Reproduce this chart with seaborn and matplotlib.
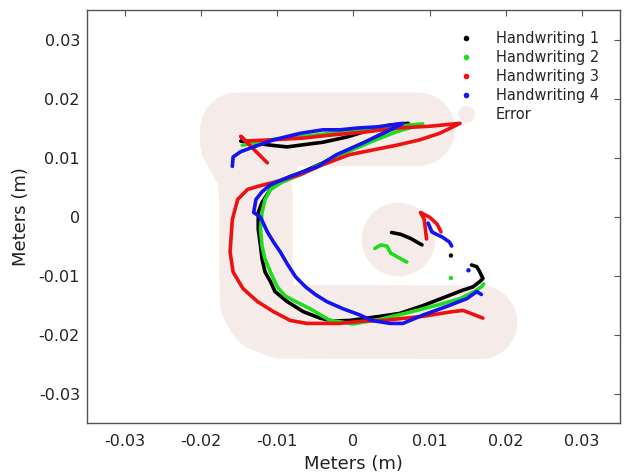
import numpy as np
import pandas as pd
import matplotlib
matplotlib.use("Agg")
import matplotlib.pyplot as plt
import seaborn as sns
from matplotlib.lines import Line2D

# ---------------- data (metres) ----------------
series_names = ["Handwriting 1", "Handwriting 2", "Handwriting 3", "Handwriting 4"]

h1_main_x = [-0.0148, -0.0109, -0.0087, -0.0070, -0.0040, -0.0008, 0.0022, 0.0048, 0.0072, 0.0048,
             0.0022, -0.0014, -0.0040, -0.0066, -0.0092, -0.0109, -0.0120, -0.0125, -0.0125, -0.0122,
             -0.0120, -0.0116, -0.0109, -0.0103, -0.0087, -0.0066, -0.0044, -0.0027, -0.0005, 0.0035,
             0.0061, 0.0091, 0.0123, 0.0143, 0.0157, 0.0166, 0.0170, 0.0166, 0.0162, 0.0155]
h1_main_y = [0.0128, 0.0121, 0.0118, 0.0121, 0.0126, 0.0135, 0.0147, 0.0155, 0.0158, 0.0147,
             0.0130, 0.0108, 0.0091, 0.0076, 0.0063, 0.0046, 0.0024, 0.0007, -0.0021, -0.0050,
             -0.0072, -0.0094, -0.0110, -0.0127, -0.0144, -0.0161, -0.0172, -0.0177, -0.0176, -0.0169,
             -0.0164, -0.0151, -0.0135, -0.0125, -0.0119, -0.0110, -0.0105, -0.0094, -0.0085, -0.0082]
h1_inner_x = [0.0050, 0.0062, 0.0075, 0.0090]
h1_inner_y = [-0.0027, -0.0030, -0.0037, -0.0048]

h2_main_x = [-0.0146, -0.0109, -0.0070, -0.0031, 0.0009, 0.0048, 0.0091, 0.0055, 0.0022, -0.0011,
             -0.0044, -0.0070, -0.0094, -0.0109, -0.0116, -0.0120, -0.0122, -0.0120, -0.0116, -0.0109,
             -0.0100, -0.0090, -0.0079, -0.0057, -0.0040, -0.0031, -0.0014, -0.0001, 0.0035, 0.0074,
             0.0113, 0.0140, 0.0159, 0.0168, 0.0171]
h2_main_y = [0.0121, 0.0130, 0.0135, 0.0141, 0.0147, 0.0152, 0.0157, 0.0143, 0.0126, 0.0108,
             0.0088, 0.0071, 0.0058, 0.0046, 0.0029, 0.0007, -0.0021, -0.0050, -0.0072, -0.0094,
             -0.0119, -0.0134, -0.0142, -0.0156, -0.0169, -0.0176, -0.0179, -0.0182, -0.0174, -0.0162,
             -0.0149, -0.0139, -0.0127, -0.0119, -0.0114]
h2_inner_x = [0.0028, 0.0036, 0.0044, 0.0049, 0.0070]
h2_inner_y = [-0.0054, -0.0048, -0.0050, -0.0062, -0.0077]

h3_main_x = [-0.0113, -0.0148, -0.0142, -0.0109, -0.0066, -0.0031, 0.0013, 0.0057, 0.0100, 0.0140,
             0.0113, 0.0087, 0.0057, 0.0026, -0.0005, -0.0040, -0.0070, -0.0105, -0.0126, -0.0139,
             -0.0152, -0.0159, -0.0162, -0.0158, -0.0145, -0.0126, -0.0105, -0.0083, -0.0061, -0.0018,
             0.0013, 0.0039, 0.0091, 0.0130, 0.0144, 0.0170]
h3_main_y = [0.0091, 0.0136, 0.0128, 0.0130, 0.0133, 0.0138, 0.0143, 0.0150, 0.0153, 0.0158,
             0.0141, 0.0130, 0.0121, 0.0113, 0.0105, 0.0088, 0.0071, 0.0058, 0.0051, 0.0046,
             0.0029, -0.0005, -0.0060, -0.0094, -0.0122, -0.0144, -0.0161, -0.0176, -0.0181, -0.0181,
             -0.0177, -0.0176, -0.0169, -0.0161, -0.0159, -0.0172]
h3_inner_x = [0.0096, 0.0093, 0.0088, 0.0100, 0.0110, 0.0115]
h3_inner_y = [-0.0038, -0.0005, 0.0007, -0.0001, -0.0013, -0.0026]

h4_main_x = [-0.0159, -0.0158, -0.0148, -0.0131, -0.0105, -0.0070, -0.0040, -0.0018, 0.0005, 0.0031,
             0.0048, 0.0065, 0.0039, 0.0013, -0.0022, -0.0048, -0.0083, -0.0109, -0.0120, -0.0128,
             -0.0131, -0.0122, -0.0113, -0.0105, -0.0096, -0.0087, -0.0076, -0.0063, -0.0050, -0.0035,
             -0.0014, 0.0009, 0.0024, 0.0048, 0.0065, 0.0091, 0.0123, 0.0149, 0.0162, 0.0168]
h4_main_y = [0.0085, 0.0101, 0.0110, 0.0118, 0.0130, 0.0141, 0.0147, 0.0147, 0.0150, 0.0152,
             0.0155, 0.0158, 0.0141, 0.0125, 0.0105, 0.0084, 0.0068, 0.0054, 0.0042, 0.0029,
             0.0007, -0.0001, -0.0026, -0.0043, -0.0060, -0.0080, -0.0102, -0.0119, -0.0132, -0.0144,
             -0.0156, -0.0167, -0.0176, -0.0181, -0.0181, -0.0167, -0.0152, -0.0139, -0.0127, -0.0132]
h4_inner_x = [0.0098, 0.0103, 0.0109, 0.0117, 0.0126, 0.0129]
h4_inner_y = [-0.0011, -0.0026, -0.0030, -0.0035, -0.0043, -0.0050]

# isolated single samples
dot_series = ["Handwriting 1", "Handwriting 2", "Handwriting 4"]
dot_x = [0.0128, 0.0128, 0.0151]
dot_y = [-0.0066, -0.0104, -0.0091]

# error region (centre line of the error band, and isolated error blobs)
err_x = [0.0085, 0.0000, -0.0100, -0.0153, -0.0153, -0.0130, -0.0128, -0.0128,
         -0.0127, -0.0117, -0.0095, 0.0167]
err_y = [0.0148, 0.0148, 0.0148, 0.0148, 0.0125, 0.0072, 0.0030, -0.0080,
         -0.0145, -0.0167, -0.0178, -0.0179]
err_blob_x = [0.0058, -0.0120]
err_blob_y = [-0.0038, 0.0102]

tick_vals = [-0.03, -0.02, -0.01, 0.0, 0.01, 0.02, 0.03]
tick_labels = ["-0.03", "-0.02", "-0.01", "0", "0.01", "0.02", "0.03"]

# ---------------- build long table ----------------
strokes = [
    ("Handwriting 1", h1_main_x, h1_main_y), ("Handwriting 1", h1_inner_x, h1_inner_y),
    ("Handwriting 2", h2_main_x, h2_main_y), ("Handwriting 2", h2_inner_x, h2_inner_y),
    ("Handwriting 3", h3_main_x, h3_main_y), ("Handwriting 3", h3_inner_x, h3_inner_y),
    ("Handwriting 4", h4_main_x, h4_main_y), ("Handwriting 4", h4_inner_x, h4_inner_y),
]
rows = []
for sid, (name, xs, ys) in enumerate(strokes):
    for i, (xv, yv) in enumerate(zip(xs, ys)):
        rows.append({"series": name, "stroke": sid, "order": i, "x": xv, "y": yv})
df = pd.DataFrame(rows)
dots = pd.DataFrame({"series": dot_series, "x": dot_x, "y": dot_y})

palette = {"Handwriting 1": "#000000", "Handwriting 2": "#1fdc1f",
           "Handwriting 3": "#ee1111", "Handwriting 4": "#1414ee"}
PINK = "#f5ecea"

# ---------------- plot ----------------
sns.set_theme(style="white")
plt.rcParams["font.family"] = ["DejaVu Sans"]

fig = plt.figure(figsize=(6.25, 4.76), dpi=100)
ax = fig.add_axes([0.139, 0.111, 0.853, 0.868])

band_pt = 53.0
sns.lineplot(x=err_x, y=err_y, sort=False, estimator=None, ax=ax, color=PINK,
             linewidth=band_pt, solid_capstyle="round", solid_joinstyle="round", zorder=1)
sns.scatterplot(x=err_blob_x, y=err_blob_y, ax=ax, color=PINK, s=band_pt ** 2,
                linewidth=0, zorder=1, legend=False)

sns.lineplot(data=df, x="x", y="y", hue="series", units="stroke", estimator=None, sort=False,
             palette=palette, linewidth=2.6, ax=ax, legend=False, zorder=3,
             solid_capstyle="round", solid_joinstyle="round")
sns.scatterplot(data=dots, x="x", y="y", hue="series", palette=palette, s=10,
                linewidth=0, ax=ax, legend=False, zorder=3)

ax.set_xlim(-0.035, 0.035)
ax.set_ylim(-0.035, 0.035)
ax.set_xticks(tick_vals)
ax.set_xticklabels(tick_labels)
ax.set_yticks(tick_vals)
ax.set_yticklabels(tick_labels)
ax.tick_params(direction="in", top=True, right=True, length=4, width=0.8,
               color="#555555", labelsize=11.5, labelcolor="#222222")
ax.tick_params(axis="x", pad=8)
ax.tick_params(axis="y", pad=5)
for sp in ax.spines.values():
    sp.set_color("#555555")
    sp.set_linewidth(1.0)

ax.set_xlabel("Meters (m)", fontsize=13, color="#222222", labelpad=4)
ax.set_ylabel("Meters (m)", fontsize=13, color="#222222", labelpad=6)

handles = [Line2D([], [], ls="", marker="o", markersize=3, color=palette[n]) for n in series_names]
handles.append(Line2D([], [], ls="", marker="o", markersize=11, color=PINK))
labels = series_names + ["Error"]
ax.legend(handles, labels, loc="upper left", bbox_to_anchor=(0.68, 0.963), frameon=False,
          fontsize=10.5, handlelength=1.5, handletextpad=1.3, labelspacing=0.28,
          borderaxespad=0.0)

fig.savefig("out.png", dpi=100, facecolor="white")
